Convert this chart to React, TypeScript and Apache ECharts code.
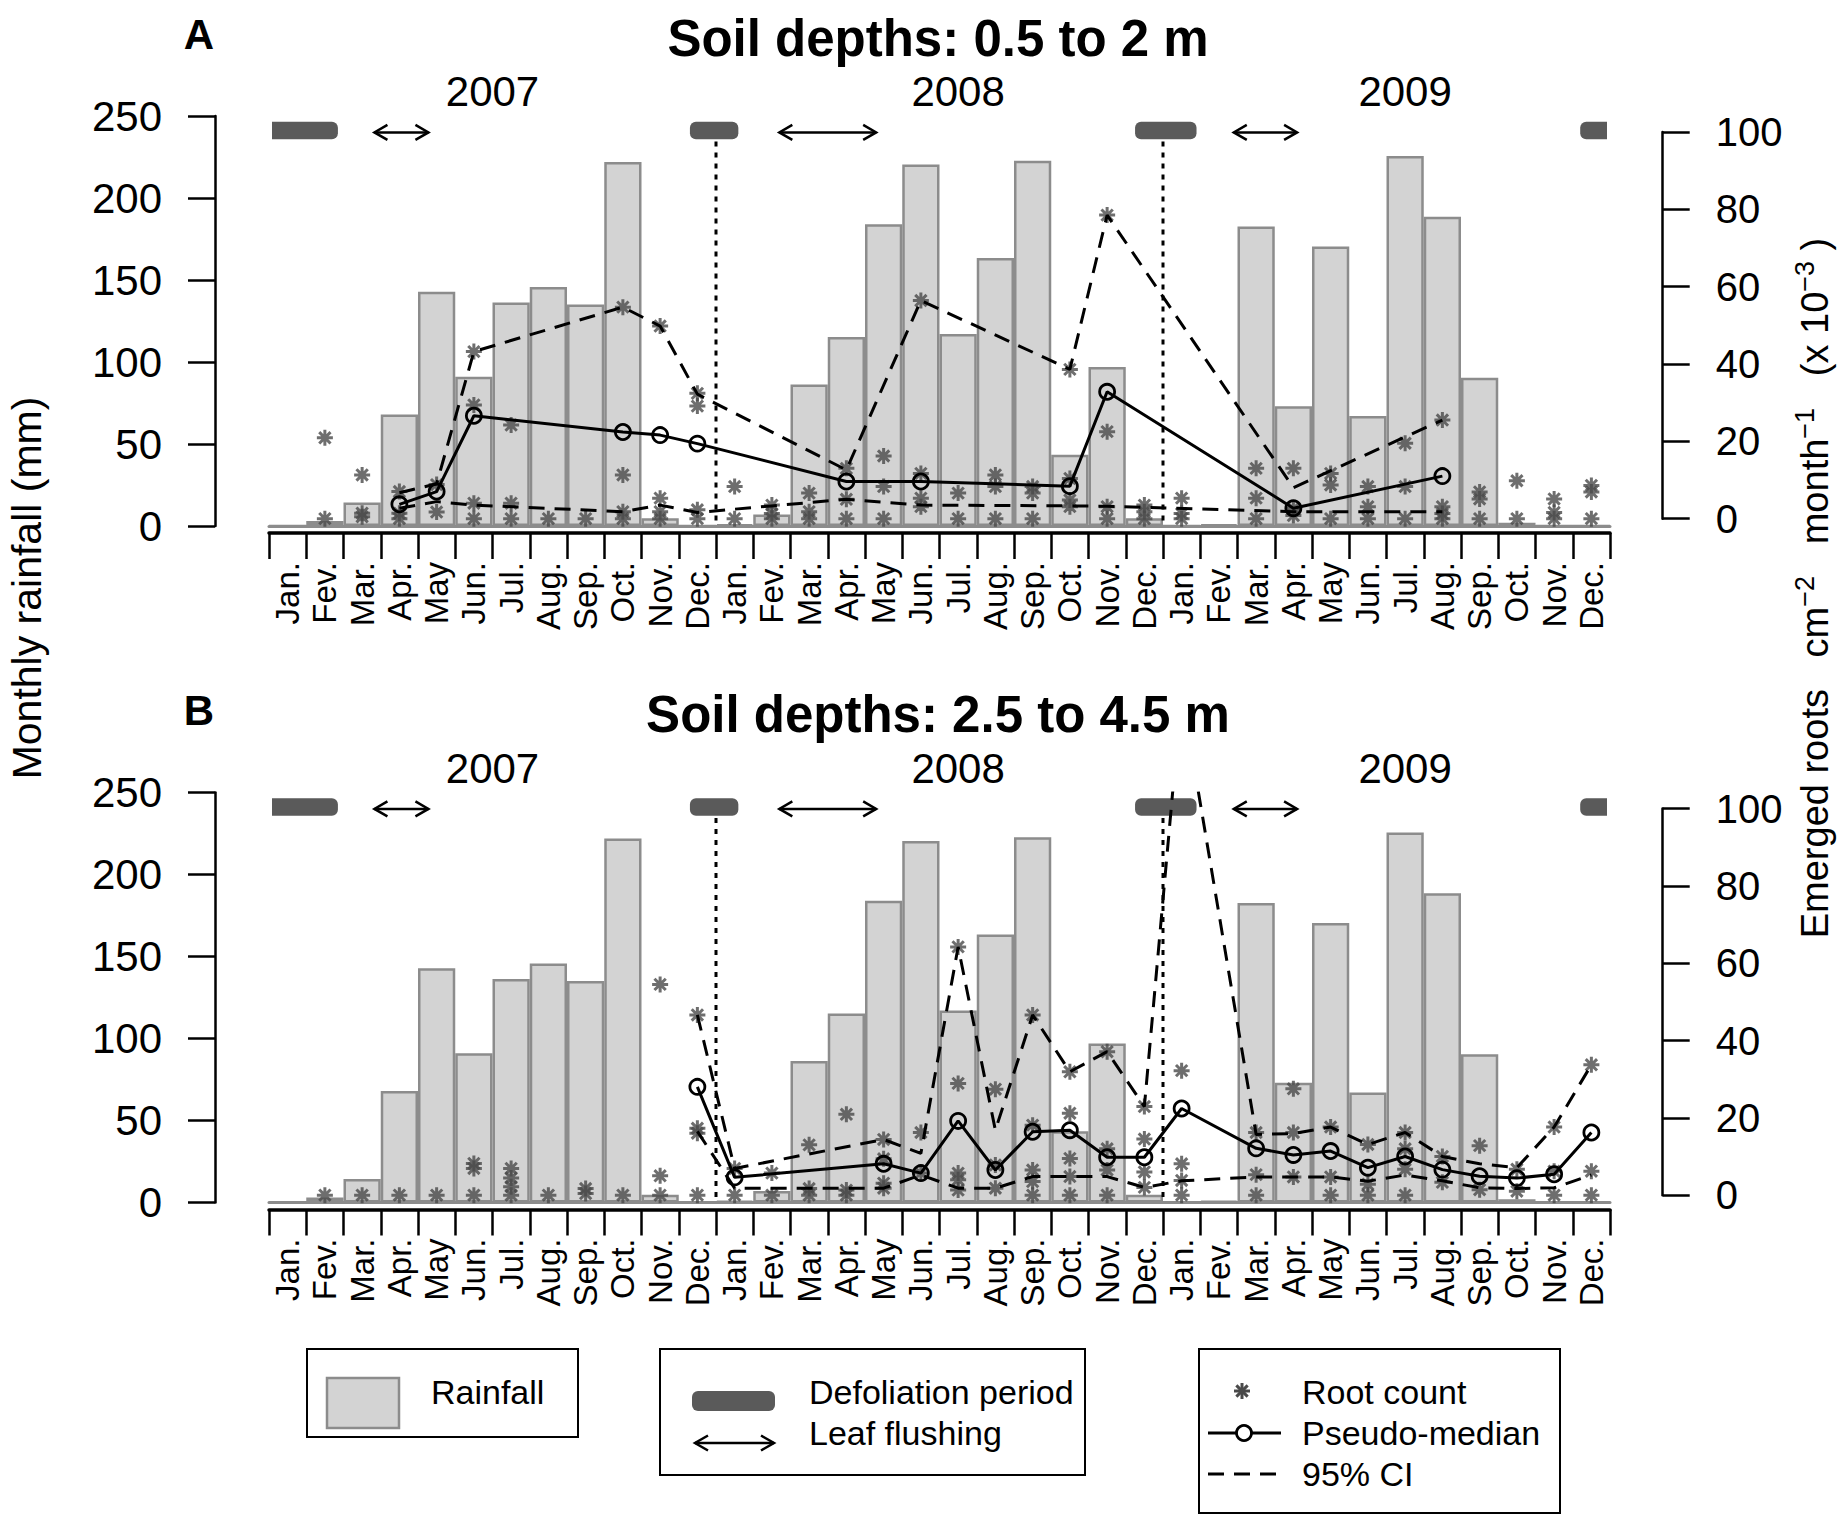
import React, { useEffect, useRef } from "react";
import * as echarts from "echarts";

// ---------------- data ----------------
const MONTH_LABELS = ["Jan.", "Fev.", "Mar.", "Apr.", "May", "Jun.", "Jul.", "Aug.", "Sep.", "Oct.", "Nov.", "Dec."];
const YEAR_LABELS = ["2007", "2008", "2009"];
const YEAR_CENTERS = [6, 18.5, 30.5]; // in month units from Jan 2007 left edge

// monthly rainfall (mm), Jan 2007 .. Dec 2009
const RAINFALL = [
  0, 3, 14.3, 68, 142.8, 91, 136.3, 145.8, 135, 222, 4.8, 0,
  1, 7, 86.3, 115.3, 184, 220.5, 117, 163.4, 222.7, 43.4, 97, 4.8,
  0, 1, 182.6, 73, 170.4, 67, 225.6, 188.5, 90.4, 2, 0, 0,
];

// defoliation periods and leaf flushing [start, end] in month units
const DEFOLIATION = [[-0.4, 1.85], [11.3, 12.6], [23.25, 24.9], [35.2, 36.4]];
const LEAF_FLUSHING = [[2.83, 4.28], [13.7, 16.3], [25.9, 27.6]];
const YEAR_BOUNDARIES = [12, 24];
const MARKER_LEVEL = 240; // mm

// Panel A (0.5 to 2 m): [monthIndex, value]
const MEDIAN_A = [[3, 3.7], [4, 7.0], [5, 26.6], [9, 22.4], [10, 21.6], [11, 19.4], [15, 9.6], [17, 9.6], [21, 8.4], [22, 32.8], [27, 2.7], [31, 11.0]];
const UPPER_A = [[3, 6.7], [4, 9.0], [5, 43.2], [9, 54.7], [10, 49.8], [11, 32.2], [15, 12.6], [17, 56.4], [21, 38.6], [22, 78.5], [27, 8.0], [31, 25.5]];
const LOWER_A = [[3, 2.7], [4, 4.4], [5, 3.5], [9, 1.8], [10, 3.5], [11, 1.6], [15, 5.0], [17, 3.5], [21, 3.3], [22, 3.2], [27, 1.8], [31, 1.8]];
const ROOTS_A = [
  [1, 20.9], [1, 0],
  [2, 11.3], [2, 1.4], [2, 0.5],
  [3, 7], [3, 1.4], [3, 0],
  [4, 8.8], [4, 1.7],
  [5, 43.2], [5, 29.4], [5, 4], [5, 0],
  [6, 24.2], [6, 4], [6, 0],
  [7, 0], [8, 0],
  [9, 54.7], [9, 11.3], [9, 1.8], [9, 0],
  [10, 49.8], [10, 5.3], [10, 1.8], [10, 0],
  [11, 32.4], [11, 29.1], [11, 2.3], [11, 0],
  [12, 8.3], [12, 0],
  [13, 3.5], [13, 1.3], [13, 0],
  [14, 6.6], [14, 1.8], [14, 0],
  [15, 13], [15, 5], [15, 0],
  [16, 16.2], [16, 8.3], [16, 0],
  [17, 56.4], [17, 11.7], [17, 5.3], [17, 3.1],
  [18, 6.6], [18, 0],
  [19, 11.3], [19, 8.3], [19, 0],
  [20, 8.3], [20, 6.6], [20, 0],
  [21, 38.6], [21, 10.4], [21, 4.8], [21, 3.1],
  [22, 78.5], [22, 22.5], [22, 3.1], [22, 0],
  [23, 3.5], [23, 1.8], [23, 0],
  [24, 5.3], [24, 1.3], [24, 0],
  [26, 13], [26, 5.3], [26, 0],
  [27, 13], [27, 2.6], [27, 0.8],
  [28, 11.7], [28, 8.7], [28, 0],
  [29, 8.3], [29, 3.1], [29, 0],
  [30, 19.5], [30, 8.3], [30, 0],
  [31, 25.5], [31, 3.1], [31, 1.3], [31, 0],
  [32, 6.9], [32, 5.1], [32, 0],
  [33, 9.8], [33, 0],
  [34, 5.1], [34, 1.6], [34, 0],
  [35, 8.6], [35, 6.9], [35, 0],
];

// Panel B (2.5 to 4.5 m)
const MEDIAN_B = [[11, 28], [12, 4.6], [16, 8.1], [17, 5.7], [18, 19.2], [19, 6.5], [20, 16.4], [21, 16.8], [22, 9.8], [23, 9.8], [24, 22.4], [26, 12.1], [27, 10.4], [28, 11.4], [29, 7.1], [30, 10], [31, 6.6], [32, 4.9], [33, 4.4], [34, 5.4], [35, 16.2]];
const UPPER_B = [[11, 46.6], [12, 6.9], [16, 14.4], [17, 10.8], [18, 64.2], [19, 16.8], [20, 46.6], [21, 31.9], [22, 37.1], [23, 22.9], [24, 130], [26, 15.7], [27, 15.9], [28, 17.6], [29, 13.1], [30, 16.2], [31, 10], [32, 8.1], [33, 7.1], [34, 17.6], [35, 33.7]];
const LOWER_B = [[11, 16.5], [12, 1.8], [16, 1.8], [17, 5.2], [18, 1.8], [19, 1.8], [20, 4.8], [21, 4.8], [22, 4.8], [23, 2], [24, 3.7], [26, 4.7], [27, 4.7], [28, 4.7], [29, 3.6], [30, 5.2], [31, 3.7], [32, 1.9], [33, 1.7], [34, 1.9], [35, 5.2]];
const ROOTS_B = [
  [1, 0], [2, 0], [3, 0], [4, 0],
  [5, 8.2], [5, 6.9], [5, 0],
  [6, 6.9], [6, 4.4], [6, 2.2], [6, 0],
  [7, 0],
  [8, 1.7], [8, 0.4],
  [9, 0],
  [10, 54.5], [10, 5], [10, 0],
  [11, 46.6], [11, 17.3], [11, 16], [11, 0],
  [12, 6.9], [12, 0],
  [13, 5.7], [13, 0],
  [14, 13], [14, 1.7], [14, 0],
  [15, 20.9], [15, 1.3], [15, 0],
  [16, 14.4], [16, 9.4], [16, 3.1], [16, 1.8],
  [17, 16.2], [17, 5.7],
  [18, 64.2], [18, 28.9], [18, 5.7], [18, 4], [18, 1.3],
  [19, 27.4], [19, 7.8], [19, 1.8],
  [20, 46.6], [20, 18.1], [20, 6.5], [20, 3.5], [20, 0],
  [21, 31.9], [21, 21.2], [21, 9.5], [21, 4.8], [21, 0],
  [22, 37.1], [22, 12], [22, 6.5], [22, 0],
  [23, 22.9], [23, 14.5], [23, 6], [23, 2],
  [24, 32.2], [24, 8.1], [24, 3.8], [24, 0],
  [26, 16.2], [26, 5.3], [26, 0],
  [27, 27.5], [27, 16.2], [27, 4.7],
  [28, 17.6], [28, 4.7], [28, 0],
  [29, 13.1], [29, 2.8], [29, 0],
  [30, 16.2], [30, 12], [30, 6.7], [30, 0],
  [31, 10], [31, 3.3],
  [32, 12.8], [32, 1.4],
  [33, 6.7], [33, 1],
  [34, 17.6], [34, 6.2], [34, 0],
  [35, 33.7], [35, 6.2], [35, 0],
];

const PANELS = [
  { letter: "A", title: "Soil depths: 0.5 to 2 m", roots: ROOTS_A, median: MEDIAN_A, upper: UPPER_A, lower: LOWER_A },
  { letter: "B", title: "Soil depths: 2.5 to 4.5 m", roots: ROOTS_B, median: MEDIAN_B, upper: UPPER_B, lower: LOWER_B },
];

// ---------------- layout / style ----------------
const W = 1839;
const H = 1524;
const FONT = "'Liberation Sans', Arial, Helvetica, sans-serif";
const PANEL_DY = 676.5;
const PLOT_LEFT = 269;
const PLOT_WIDTH = 1341;
const BAR_FILL = "#d3d3d3";
const BAR_BORDER = "#8c8c8c";
const DEFOL_COLOR = "#5a5a5a";
const STAR_COLOR = "#4a4a4a";
const LINE_W = 3;
const STAR_PATH = "path://M0,-10L0,10M-10,0L10,0M-7.07,-7.07L7.07,7.07M-7.07,7.07L7.07,-7.07";

const NMONTHS = RAINFALL.length;

function sparse(pairs: number[][]) {
  const a: (number | null)[] = new Array(NMONTHS).fill(null);
  pairs.forEach(([i, v]) => {
    a[i] = v;
  });
  return a;
}

function bandInfo(api: any) {
  const c0 = api.coord([0, 0]);
  const band = api.size([1, 0])[0];
  const left = c0[0] - band / 2;
  return { left, band, right: left + NMONTHS * band };
}

function arrowGroup(x1: number, x2: number, y: number) {
  const hx = 13;
  const hy = 7.5;
  const st = { stroke: "#000", lineWidth: 2.5, fill: "none" };
  return {
    type: "group",
    children: [
      { type: "line", shape: { x1, y1: y, x2, y2: y }, style: { stroke: "#000", lineWidth: 2.5 } },
      { type: "polyline", shape: { points: [[x1 + hx, y - hy], [x1, y], [x1 + hx, y + hy]] }, style: st },
      { type: "polyline", shape: { points: [[x2 - hx, y - hy], [x2, y], [x2 - hx, y + hy]] }, style: st },
    ],
  };
}

function starGroup(cx: number, cy: number, r: number) {
  const d = r * 0.707;
  const st = { stroke: STAR_COLOR, lineWidth: 3 };
  return {
    type: "group",
    children: [
      { type: "line", shape: { x1: cx, y1: cy - r, x2: cx, y2: cy + r }, style: st },
      { type: "line", shape: { x1: cx - r, y1: cy, x2: cx + r, y2: cy }, style: st },
      { type: "line", shape: { x1: cx - d, y1: cy - d, x2: cx + d, y2: cy + d }, style: st },
      { type: "line", shape: { x1: cx - d, y1: cy + d, x2: cx + d, y2: cy - d }, style: st },
    ],
  };
}

function text(t: string, x: number, y: number, size: number, opts: any = {}) {
  return {
    type: "text",
    x,
    y,
    rotation: opts.rotation || 0,
    z: 10,
    silent: true,
    style: {
      text: t,
      fontSize: size,
      fontFamily: FONT,
      fontWeight: opts.bold ? "bold" : "normal",
      fill: "#000",
      align: opts.align || "left",
      verticalAlign: "middle",
      lineHeight: opts.lineHeight,
      rich: opts.rich,
    },
  };
}

function buildOption() {
  const grid: any[] = [];
  const xAxis: any[] = [];
  const yAxis: any[] = [];
  const series: any[] = [];
  const cats = RAINFALL.map((_, i) => String(i));

  PANELS.forEach((p, k) => {
    const dy = k * PANEL_DY;
    const g0 = grid.length;
    grid.push({ left: PLOT_LEFT, width: PLOT_WIDTH, top: 116 + dy, height: 410, outerBoundsMode: "none", containLabel: false });
    grid.push({ left: PLOT_LEFT, width: PLOT_WIDTH, top: 116.5 + dy, height: 417.6, outerBoundsMode: "none", containLabel: false });
    grid.push({ left: PLOT_LEFT, width: PLOT_WIDTH, top: 132 + dy, height: 386.7, outerBoundsMode: "none", containLabel: false });

    const x0 = xAxis.length;
    xAxis.push({
      type: "category", gridIndex: g0, data: cats, position: "bottom",
      axisLine: { show: true, onZero: false, lineStyle: { color: BAR_BORDER, width: 3 } },
      axisTick: { show: false }, axisLabel: { show: false }, splitLine: { show: false },
    });
    xAxis.push({
      type: "category", gridIndex: g0, data: cats, position: "bottom", offset: 7,
      axisLine: { show: true, onZero: false, lineStyle: { color: "#000", width: 3.5 } },
      axisTick: { show: true, interval: 0, length: 26, lineStyle: { color: "#000", width: 2.5 } },
      axisLabel: {
        show: true, interval: 0, rotate: 90, margin: 29, fontSize: 33, fontFamily: FONT, color: "#000",
        hideOverlap: false,
        formatter: (_v: string, i: number) => MONTH_LABELS[i % 12],
      },
      splitLine: { show: false },
    });
    xAxis.push({ type: "category", gridIndex: g0 + 1, data: cats, show: false, axisLine: { onZero: false } });
    xAxis.push({ type: "category", gridIndex: g0 + 2, data: cats, show: false, axisLine: { onZero: false } });

    const y0 = yAxis.length;
    yAxis.push({
      type: "value", gridIndex: g0, min: 0, max: 250, interval: 50, position: "left", offset: 54,
      axisLine: { show: true, lineStyle: { color: "#000", width: 2.5 } },
      axisTick: { show: true, length: 27, lineStyle: { color: "#000", width: 2.5 } },
      axisLabel: { fontSize: 42, margin: 53, color: "#000", fontFamily: FONT },
      splitLine: { show: false },
    });
    yAxis.push({ type: "value", gridIndex: g0 + 1, min: -4, max: 104, show: false, splitLine: { show: false } });
    yAxis.push({
      type: "value", gridIndex: g0 + 2, min: 0, max: 100, interval: 20, position: "right", offset: 52.7,
      axisLine: { show: true, lineStyle: { color: "#000", width: 2.5 } },
      axisTick: { show: true, length: 27, lineStyle: { color: "#000", width: 2.5 } },
      axisLabel: { fontSize: 40, margin: 53, color: "#000", fontFamily: FONT },
      splitLine: { show: false },
    });

    // rainfall bars
    series.push({
      type: "bar", xAxisIndex: x0, yAxisIndex: y0, data: RAINFALL, barWidth: "100%", barGap: "0%",
      itemStyle: { color: BAR_FILL, borderColor: BAR_BORDER, borderWidth: 2.5 }, silent: true, z: 1,
    });

    // year boundary dotted lines
    series.push({
      type: "custom", xAxisIndex: x0, yAxisIndex: y0, silent: true, clip: false, z: 3,
      data: YEAR_BOUNDARIES.map(() => [0, 0]),
      renderItem: (params: any, api: any) => {
        const b = bandInfo(api);
        const x = b.left + YEAR_BOUNDARIES[params.dataIndex] * b.band;
        const yTop = api.coord([0, MARKER_LEVEL])[1] + 9;
        const yBot = api.coord([0, 0])[1] - 2;
        return { type: "line", shape: { x1: x, y1: yTop, x2: x, y2: yBot }, style: { stroke: "#000", lineWidth: 3, lineDash: [5, 6] } };
      },
    });

    // defoliation periods
    series.push({
      type: "custom", xAxisIndex: x0, yAxisIndex: y0, silent: true, clip: false, z: 4,
      data: DEFOLIATION.map(() => [0, MARKER_LEVEL]),
      renderItem: (params: any, api: any) => {
        const b = bandInfo(api);
        const [s, e] = DEFOLIATION[params.dataIndex];
        let x1 = b.left + s * b.band;
        let x2 = b.left + e * b.band;
        const cl = x1 < b.left;
        const cr = x2 > b.right;
        x1 = Math.max(x1, b.left + 3);
        x2 = Math.min(x2, b.right - 3);
        const yc = api.coord([0, MARKER_LEVEL])[1] - 2;
        const h = 17.5;
        const r = 6;
        return {
          type: "rect",
          shape: { x: x1, y: yc - h / 2, width: x2 - x1, height: h, r: [cl ? 0 : r, cr ? 0 : r, cr ? 0 : r, cl ? 0 : r] },
          style: { fill: DEFOL_COLOR },
        };
      },
    });

    // leaf flushing arrows
    series.push({
      type: "custom", xAxisIndex: x0, yAxisIndex: y0, silent: true, clip: false, z: 4,
      data: LEAF_FLUSHING.map(() => [0, MARKER_LEVEL]),
      renderItem: (params: any, api: any) => {
        const b = bandInfo(api);
        const [s, e] = LEAF_FLUSHING[params.dataIndex];
        const y = api.coord([0, MARKER_LEVEL])[1];
        return arrowGroup(b.left + s * b.band, b.left + e * b.band, y);
      },
    });

    // year labels
    series.push({
      type: "custom", xAxisIndex: x0, yAxisIndex: y0, silent: true, clip: false, z: 4,
      data: YEAR_LABELS.map(() => [0, 250]),
      renderItem: (params: any, api: any) => {
        const b = bandInfo(api);
        const x = b.left + YEAR_CENTERS[params.dataIndex] * b.band;
        const y = api.coord([0, 250])[1] - 24.5;
        return {
          type: "text", x, y,
          style: { text: YEAR_LABELS[params.dataIndex], fontSize: 42, fontFamily: FONT, fill: "#000", align: "center", verticalAlign: "middle" },
        };
      },
    });

    // root counts
    series.push({
      type: "scatter", xAxisIndex: x0 + 2, yAxisIndex: y0 + 1, data: p.roots, symbol: STAR_PATH, symbolSize: 16,
      itemStyle: { color: "rgba(0,0,0,0)", borderColor: STAR_COLOR, borderWidth: 3 }, silent: true, z: 5,
    });

    // CI lines
    [p.upper, p.lower].forEach((ci) => {
      series.push({
        type: "line", xAxisIndex: x0 + 2, yAxisIndex: y0 + 1, data: sparse(ci), connectNulls: true, showSymbol: false,
        lineStyle: { color: "#000", width: LINE_W, type: [16, 10] }, silent: true, z: 6, clip: true,
      });
    });

    // pseudo-median
    series.push({
      type: "line", xAxisIndex: x0 + 2, yAxisIndex: y0 + 1, data: sparse(p.median), connectNulls: true,
      showSymbol: true, showAllSymbol: true, symbol: "circle", symbolSize: 15,
      itemStyle: { color: "rgba(0,0,0,0)", borderColor: "#000", borderWidth: 2.8 },
      lineStyle: { color: "#000", width: LINE_W }, silent: true, z: 7, clip: true,
    });
  });

  const graphic: any[] = [];
  PANELS.forEach((p, k) => {
    const dy = k * PANEL_DY;
    graphic.push(text(p.letter, 214, 34 + dy, 42, { bold: true, align: "right" }));
    graphic.push(text(p.title, 938, 38 + dy, 51, { bold: true, align: "center" }));
  });

  graphic.push(text("Monthly rainfall (mm)", 27, 588, 41, { rotation: Math.PI / 2, align: "center" }));
  graphic.push(
    text("Emerged roots   cm{s|\u22122}   month{s|\u22121}   (x 10{s|\u22123} )", 1815, 588, 38, {
      rotation: Math.PI / 2, align: "center", lineHeight: 48,
      rich: { s: { fontSize: 27, fontFamily: FONT, verticalAlign: "top", lineHeight: 27, fill: "#000" } },
    })
  );

  // legend boxes
  const boxStyle = { fill: "none", stroke: "#000", lineWidth: 2 };
  graphic.push({ type: "rect", shape: { x: 307, y: 1349, width: 271, height: 88 }, style: boxStyle, silent: true });
  graphic.push({ type: "rect", shape: { x: 327, y: 1378, width: 72, height: 50 }, style: { fill: BAR_FILL, stroke: BAR_BORDER, lineWidth: 2.5 }, silent: true });
  graphic.push(text("Rainfall", 431, 1392, 34));

  graphic.push({ type: "rect", shape: { x: 660, y: 1349, width: 425, height: 126 }, style: boxStyle, silent: true });
  graphic.push({ type: "rect", shape: { x: 692, y: 1391, width: 83, height: 20, r: 6 }, style: { fill: DEFOL_COLOR }, silent: true });
  graphic.push({ ...arrowGroup(695, 774, 1443), silent: true });
  graphic.push(text("Defoliation period", 809, 1392, 34));
  graphic.push(text("Leaf flushing", 809, 1433, 34));

  graphic.push({ type: "rect", shape: { x: 1199, y: 1349, width: 361, height: 164 }, style: boxStyle, silent: true });
  graphic.push({ ...starGroup(1242, 1391, 8), silent: true });
  graphic.push({ type: "line", shape: { x1: 1208, y1: 1433, x2: 1281, y2: 1433 }, style: { stroke: "#000", lineWidth: LINE_W }, silent: true });
  graphic.push({ type: "circle", shape: { cx: 1244, cy: 1433, r: 7.5 }, style: { fill: "#fff", stroke: "#000", lineWidth: 2.8 }, silent: true });
  graphic.push({ type: "line", shape: { x1: 1208, y1: 1474, x2: 1281, y2: 1474 }, style: { stroke: "#000", lineWidth: LINE_W, lineDash: [16, 10] }, silent: true });
  graphic.push(text("Root count", 1302, 1392, 34));
  graphic.push(text("Pseudo-median", 1302, 1433, 34));
  graphic.push(text("95% CI", 1302, 1474, 34));

  return {
    animation: false,
    backgroundColor: "#ffffff",
    grid,
    xAxis,
    yAxis,
    series,
    graphic,
  };
}

export default function App() {
  const ref = useRef<HTMLDivElement>(null);
  useEffect(() => {
    if (!ref.current) return;
    const chart = echarts.init(ref.current, null, { renderer: "svg", width: W, height: H });
    chart.setOption(buildOption() as any);
    return () => {
      chart.dispose();
    };
  }, []);
  return <div ref={ref} style={{ position: "absolute", left: 0, top: 0, width: W, height: H, background: "#fff" }} />;
}
